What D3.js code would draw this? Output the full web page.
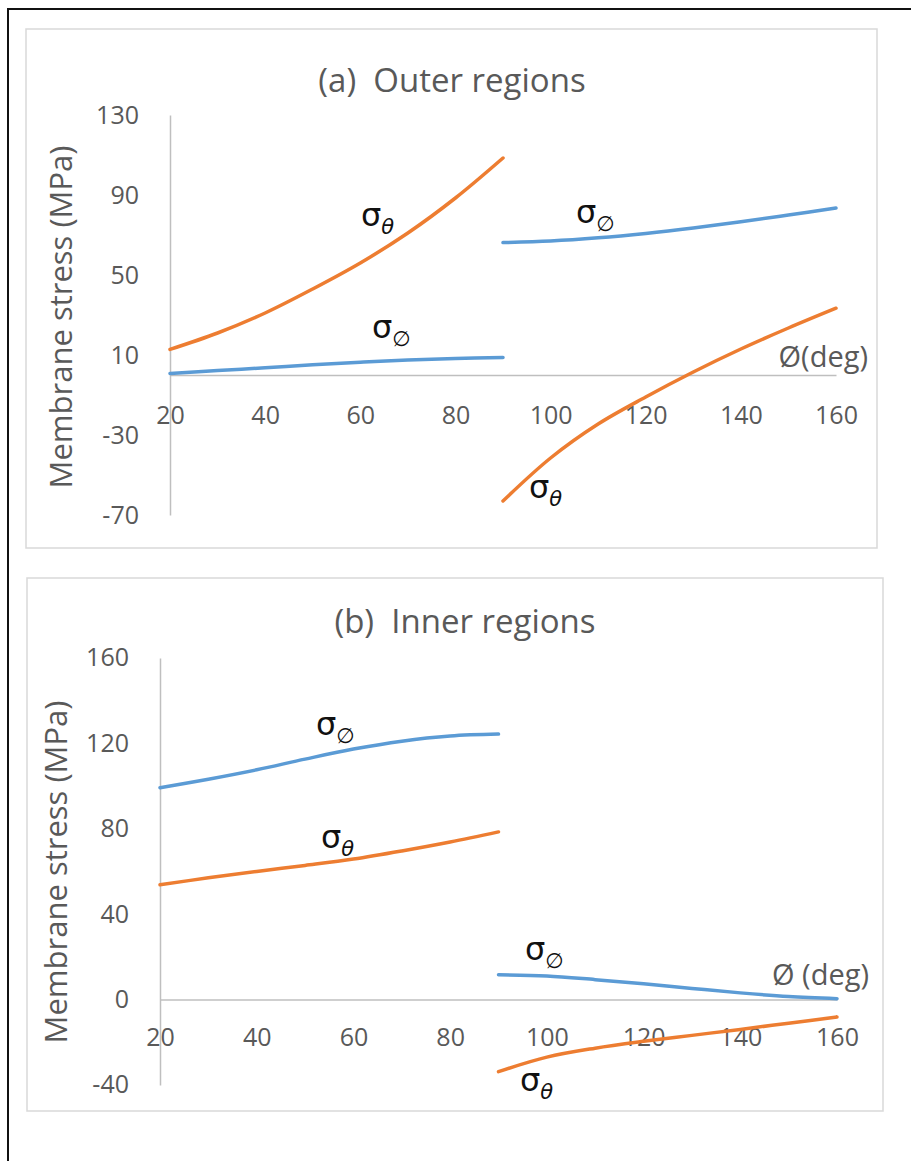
<!DOCTYPE html>
<html>
<head>
<meta charset="utf-8">
<script src="https://cdn.jsdelivr.net/npm/d3@7"></script>
<style>
  html, body { margin: 0; padding: 0; background: #fff; }
  svg { display: block; }
  text { white-space: pre; }
</style>
</head>
<body>
<svg id="chart" width="911" height="1161"></svg>
<script>
// ---------------- data ----------------
const degLeft  = [20, 30, 40, 50, 60, 70, 80, 90];
const degRight = [90, 100, 110, 120, 130, 140, 150, 160];

// (a) Outer regions
const outerThetaLeft  = [12.8, 21, 31, 43, 56, 71, 88.5, 108.5];
const outerPhiLeft    = [0.8, 2.2, 3.6, 5.1, 6.4, 7.5, 8.3, 8.8];
const outerPhiRight   = [66.2, 67, 68.6, 70.8, 73.5, 76.6, 80, 83.5];
const outerThetaRight = [-63, -41.5, -24.5, -11, 1.5, 13, 23.5, 33.4];

// (b) Inner regions
const innerPhiLeft    = [99.2, 103.2, 107.6, 112.6, 117.3, 121, 123.4, 124.3];
const innerThetaLeft  = [53.7, 57, 60, 62.8, 65.8, 69.6, 73.8, 78.5];
const innerPhiRight   = [11.6, 11, 9.3, 7.4, 5.2, 3.1, 1.4, 0.4];
const innerThetaRight = [-33.8, -27, -22.8, -19.6, -16.8, -14, -11.1, -8.2];

const xTicks = [20, 40, 60, 80, 100, 120, 140, 160];
const yTicksA = [130, 90, 50, 10, -30, -70];
const yTicksB = [160, 120, 80, 40, 0, -40];

const titleA = "(a)  Outer regions";
const titleB = "(b)  Inner regions";
const yTitle = "Membrane stress (MPa)";
const xTitleA = "Ø(deg)";
const xTitleB = "Ø (deg)";

// ---------------- style ----------------
const ORANGE = "#ED7D31", BLUE = "#5B9BD5", GREY_TXT = "#595959", AXIS = "#BFBFBF";
const FONT = "'Open Sans', Lato, sans-serif";

const svg = d3.select("#chart");

// outer black frame
svg.append("rect").attr("x", 8).attr("y", 9).attr("width", 920).attr("height", 1170)
  .attr("fill", "none").attr("stroke", "#111").attr("stroke-width", 2);

function panel(cfg) {
  const g = svg.append("g");
  g.append("rect").attr("x", cfg.box[0]).attr("y", cfg.box[1])
    .attr("width", cfg.box[2] - cfg.box[0]).attr("height", cfg.box[3] - cfg.box[1])
    .attr("fill", "#fff").attr("stroke", "#D9D9D9").attr("stroke-width", 1.5);

  const x = d3.scaleLinear().domain([20, 160]).range(cfg.xr);
  const y = d3.scaleLinear().domain(cfg.yd).range(cfg.yr);

  // title
  g.append("text").attr("x", cfg.titlePos[0]).attr("y", cfg.titlePos[1])
    .attr("text-anchor", "middle").attr("font-family", FONT).attr("font-size", 33)
    .attr("fill", GREY_TXT).text(cfg.title);

  // y axis
  const ya = g.append("g").attr("transform", `translate(${x(20)},0)`)
    .call(d3.axisLeft(y).tickValues(cfg.yTicks).tickSize(0).tickPadding(cfg.yPad).tickFormat(d => String(d)));
  ya.select(".domain").attr("stroke", AXIS).attr("stroke-width", 1.5);
  ya.selectAll("text").attr("font-family", FONT).attr("font-size", 25).attr("fill", GREY_TXT);

  // x axis at y=0
  const xa = g.append("g").attr("transform", `translate(0,${y(0)})`)
    .call(d3.axisBottom(x).tickValues(xTicks).tickSize(0).tickPadding(cfg.xPad).tickFormat(d => String(d)));
  xa.select(".domain").attr("stroke", AXIS).attr("stroke-width", 1.5);
  xa.selectAll("text").attr("font-family", FONT).attr("font-size", 25).attr("fill", GREY_TXT);

  // y title
  g.append("text").attr("transform", `translate(${cfg.yTitlePos[0]},${cfg.yTitlePos[1]}) rotate(-90)`)
    .attr("text-anchor", "middle").attr("dy", "0.35em").attr("font-family", FONT).attr("font-size", 31)
    .attr("fill", GREY_TXT).text(yTitle);

  // x title
  g.append("text").attr("x", cfg.xTitlePos[0]).attr("y", cfg.xTitlePos[1])
    .attr("text-anchor", "end").attr("dy", "0.35em").attr("font-family", FONT).attr("font-size", 29)
    .attr("fill", GREY_TXT).text(cfg.xTitle);

  // series
  const line = d3.line().x(d => x(d[0])).y(d => y(d[1])).curve(d3.curveCatmullRom.alpha(0.5));
  cfg.series.forEach(s => {
    g.append("path").datum(s.deg.map((d, i) => [d, s.vals[i]]))
      .attr("d", line).attr("fill", "none").attr("stroke", s.color)
      .attr("stroke-width", 3.5).attr("stroke-linecap", "round");
  });

  // sigma labels
  cfg.labels.forEach(l => {
    const t = g.append("text").attr("x", l.x).attr("y", l.y)
      .attr("font-family", "'DejaVu Sans', sans-serif").attr("fill", "#111");
    t.append("tspan").attr("font-size", 32).text("σ");
    t.append("tspan").attr("font-size", 21).attr("dy", 8)
      .attr("font-style", l.sub === "θ" ? "italic" : "normal").text(l.sub);
  });
}

panel({
  box: [26, 29, 877, 548],
  xr: [170, 836], yd: [-70, 130], yr: [515, 115],
  yTicks: yTicksA, yPad: 31, xPad: 31,
  title: titleA, titlePos: [452, 92],
  yTitlePos: [61, 317],
  xTitle: xTitleA, xTitlePos: [868, 357],
  series: [
    { deg: degLeft,  vals: outerThetaLeft,  color: ORANGE },
    { deg: degLeft,  vals: outerPhiLeft,    color: BLUE },
    { deg: degRight, vals: outerPhiRight,   color: BLUE },
    { deg: degRight, vals: outerThetaRight, color: ORANGE }
  ],
  labels: [
    { x: 361, y: 226, sub: "θ" },
    { x: 372, y: 338, sub: "∅" },
    { x: 576, y: 223, sub: "∅" },
    { x: 529, y: 498, sub: "θ" }
  ]
});

panel({
  box: [27, 578, 883, 1111],
  xr: [160, 837], yd: [-40, 160], yr: [1084.9, 657.9],
  yTicks: yTicksB, yPad: 31, xPad: 29,
  title: titleB, titlePos: [465, 633],
  yTitlePos: [56, 872],
  xTitle: xTitleB, xTitlePos: [869, 975],
  series: [
    { deg: degLeft,  vals: innerPhiLeft,    color: BLUE },
    { deg: degLeft,  vals: innerThetaLeft,  color: ORANGE },
    { deg: degRight, vals: innerPhiRight,   color: BLUE },
    { deg: degRight, vals: innerThetaRight, color: ORANGE }
  ],
  labels: [
    { x: 316, y: 735, sub: "∅" },
    { x: 321, y: 848, sub: "θ" },
    { x: 525, y: 960, sub: "∅" },
    { x: 520, y: 1091, sub: "θ" }
  ]
});
</script>
</body>
</html>
